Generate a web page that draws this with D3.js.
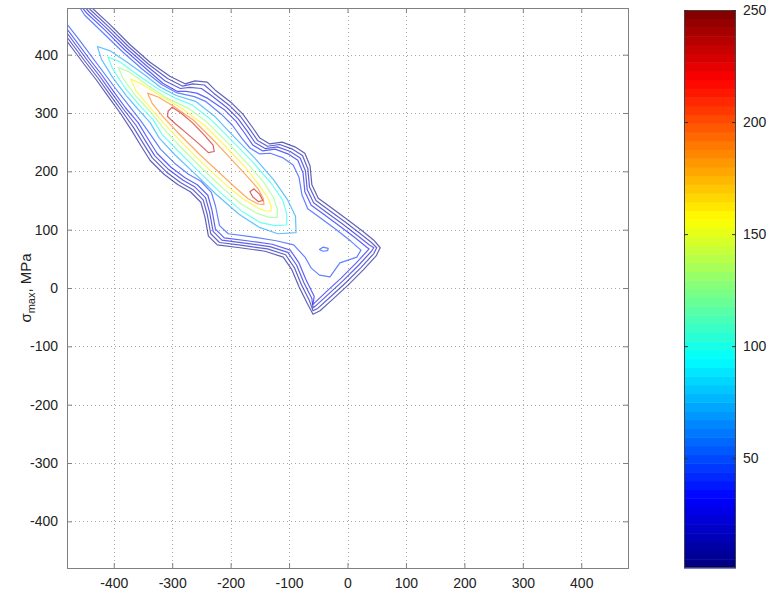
<!DOCTYPE html>
<html>
<head>
<meta charset="utf-8">
<script src="https://cdn.jsdelivr.net/npm/d3@7"></script>
<style>
  body { margin: 0; background: #fff; }
  svg { display: block; }
  text { font-family: "Liberation Sans", Arial, sans-serif; fill: #222; }
</style>
</head>
<body>
<script>
// ticks (MPa)
const xTicks = [-400, -300, -200, -100, 0, 100, 200, 300, 400];
const yTicks = [-400, -300, -200, -100, 0, 100, 200, 300, 400];
const colorTicks = [50, 100, 150, 200, 250];

// contour lines as [sigma_min, sigma_max] in MPa, outermost first
const c5 = [[-470,520],[-437,480],[-406,451],[-372,417],[-338,387],[-304,363],[-278,350],[-261,355],[-240,353],[-225,338],[-198,317],[-179,298],[-163,276],[-150,257],[-133,247],[-112,250],[-90,242],[-73,231],[-64,209],[-61,177],[-50,154],[-27,137],[-1,118],[25,98],[45,82],[56,69],[49,55],[27,31],[1,5],[-25,-19],[-47,-39],[-59,-45],[-69,-26],[-83,2],[-95,31],[-110,53],[-141,63],[-184,69],[-223,74],[-238,89],[-244,122],[-251,147],[-269,165],[-290,177],[-314,195],[-338,219],[-353,243],[-370,271],[-389,300],[-410,329],[-430,357],[-451,384],[-471,411],[-492,439],[-520,470]];
const c12 = [[-473,517],[-440,477],[-409,448],[-375,414],[-341,384],[-308,359],[-282,346],[-265,350],[-245,348],[-229,334],[-202,313],[-183,294],[-167,272],[-154,253],[-137,243],[-116,246],[-94,238],[-77,227],[-68,205],[-65,173],[-54,150],[-31,133],[-5,114],[21,94],[41,78],[50,69],[45,59],[23,35],[-3,9],[-29,-15],[-51,-35],[-59,-39],[-65,-22],[-79,6],[-91,35],[-106,57],[-137,67],[-180,73],[-219,78],[-234,93],[-240,126],[-247,151],[-265,169],[-286,181],[-310,199],[-334,223],[-349,247],[-366,275],[-386,303],[-407,332],[-427,360],[-448,387],[-468,414],[-489,442],[-517,473]];
const c20 = [[-476,514],[-443,474],[-412,445],[-378,411],[-344,381],[-312,355],[-286,342],[-270,344],[-250,342],[-233,330],[-206,309],[-187,290],[-171,268],[-158,249],[-141,239],[-120,242],[-98,234],[-81,223],[-72,201],[-69,169],[-58,146],[-35,129],[-9,110],[17,90],[37,74],[45,69],[41,63],[19,39],[-7,13],[-33,-11],[-55,-31],[-59,-34],[-61,-18],[-75,10],[-87,39],[-102,61],[-133,71],[-176,77],[-215,82],[-230,97],[-236,130],[-243,155],[-261,173],[-282,185],[-306,203],[-330,227],[-345,251],[-362,279],[-383,306],[-404,335],[-424,363],[-445,390],[-465,417],[-486,445],[-514,476]];
const c30 = [[-479,511],[-446,471],[-415,442],[-381,408],[-347,378],[-316,351],[-291,337],[-276,337],[-258,334],[-239,325],[-210,305],[-191,286],[-175,264],[-162,245],[-145,235],[-124,238],[-102,230],[-85,219],[-76,197],[-73,165],[-62,142],[-39,125],[-13,106],[13,86],[33,70],[37,67],[15,43],[-11,17],[-37,-7],[-59,-28],[-57,-14],[-71,14],[-83,43],[-98,65],[-129,75],[-172,81],[-211,86],[-226,101],[-232,134],[-239,159],[-257,177],[-278,189],[-302,207],[-326,231],[-341,255],[-358,283],[-380,309],[-401,338],[-421,366],[-442,393],[-462,420],[-483,448],[-511,479]];
const c45 = [[-467,495],[-450,468],[-419,438],[-385,405],[-351,375],[-318,349],[-293,335],[-262,328],[-243,320],[-216,298],[-197,279],[-181,257],[-167,240],[-151,230],[-132,231],[-110,223],[-93,211],[-83,190],[-78,160],[-68,136],[-45,119],[-19,100],[6,80],[23,65],[16,53],[-13,43],[-30,19],[-48,22],[-62,34],[-72,52],[-92,74],[-122,81],[-166,88],[-204,93],[-219,107],[-226,141],[-233,164],[-251,183],[-272,195],[-296,214],[-320,238],[-335,260],[-354,287],[-375,314],[-397,342],[-417,369],[-438,397],[-458,424],[-479,451],[-508,482]];
const c45spot = [[-48,66],[-42,70],[-33,68],[-34,64],[-42,63]];
const c70 = [[-428,414],[-407,407],[-377,387],[-344,363],[-320,344],[-293,330],[-260,320],[-228,295],[-194,259],[-159,223],[-126,185],[-103,152],[-89,123],[-88,95],[-119,93],[-151,104],[-185,126],[-223,159],[-259,194],[-295,228],[-322,257],[-338,284],[-358,306],[-378,329],[-402,361],[-421,392]];
const c100 = [[-410,396],[-390,388],[-357,364],[-324,341],[-296,326],[-266,314],[-234,289],[-199,254],[-164,218],[-131,180],[-111,151],[-104,127],[-104,108],[-124,107],[-149,112],[-180,131],[-218,164],[-254,199],[-289,234],[-317,263],[-333,289],[-354,311],[-380,342],[-402,376]];
const c130 = [[-392,378],[-373,370],[-344,349],[-310,326],[-272,308],[-240,284],[-204,248],[-170,212],[-144,182],[-127,156],[-120,135],[-120,121],[-134,121],[-155,128],[-182,144],[-212,170],[-248,204],[-284,240],[-311,269],[-336,301],[-363,330],[-384,359]];
const c160 = [[-371,358],[-351,349],[-321,330],[-285,309],[-245,279],[-209,243],[-175,207],[-153,179],[-136,154],[-131,141],[-131,132],[-139,132],[-153,137],[-179,153],[-206,175],[-243,209],[-279,245],[-313,281],[-339,311],[-362,338]];
const c190 = [[-342,334],[-323,327],[-297,311],[-264,288],[-228,252],[-201,223],[-174,194],[-153,170],[-144,153],[-143,143],[-153,144],[-170,153],[-194,174],[-223,201],[-252,228],[-288,264],[-315,293],[-334,316]];
const c232a = [[-307,303],[-300,310],[-285,300],[-265,283],[-245,262],[-230,245],[-228,234],[-238,232],[-255,248],[-275,265],[-295,282],[-308,294]];
const c232b = [[-167,165],[-160,170],[-150,160],[-145,150],[-152,148],[-162,156]];

const contourLines = [
  { level: 5, pts: c5 }, { level: 12, pts: c12 }, { level: 20, pts: c20 },
  { level: 30, pts: c30 }, { level: 45, pts: c45 }, { level: 45, pts: c45spot },
  { level: 70, pts: c70 }, { level: 100, pts: c100 }, { level: 130, pts: c130 },
  { level: 160, pts: c160 }, { level: 190, pts: c190 },
  { level: 232, pts: c232a }, { level: 232, pts: c232b },
];

// MATLAB jet colormap
function jet(t) {
  const c = v => Math.max(0, Math.min(1, v));
  return d3.rgb(255 * c(1.5 - Math.abs(4 * t - 3)),
                255 * c(1.5 - Math.abs(4 * t - 2)),
                255 * c(1.5 - Math.abs(4 * t - 1))).formatHex();
}

const W = 773, H = 593;
const plot = { left: 67, right: 628, top: 8, bottom: 568 };
const bar = { left: 684, right: 736, top: 10, bottom: 568 };

const x = d3.scaleLinear().domain([-480, 480]).range([plot.left, plot.right]);
const y = d3.scaleLinear().domain([-480, 480]).range([plot.bottom, plot.top]);
const cScale = d3.scaleLinear().domain([1, 250]).range([bar.bottom, bar.top]);
const colorOf = v => jet((v - 1) / 249);
const fmt = d => String(d); // plain hyphen minus, as in the picture

const svg = d3.select('body').append('svg')
  .attr('width', W).attr('height', H);

svg.append('defs').append('clipPath').attr('id', 'clip')
  .append('rect')
  .attr('x', plot.left).attr('y', plot.top)
  .attr('width', plot.right - plot.left).attr('height', plot.bottom - plot.top);

// grid
const grid = svg.append('g')
  .attr('stroke', '#a8a8a8').attr('stroke-dasharray', '1,3').attr('stroke-width', 1);
grid.selectAll('.gx').data(xTicks).enter().append('line')
  .attr('x1', d => Math.round(x(d)) + 0.5).attr('x2', d => Math.round(x(d)) + 0.5)
  .attr('y1', plot.top).attr('y2', plot.bottom);
grid.selectAll('.gy').data(yTicks).enter().append('line')
  .attr('y1', d => Math.round(y(d)) + 0.5).attr('y2', d => Math.round(y(d)) + 0.5)
  .attr('x1', plot.left).attr('x2', plot.right);

// contours
const line = d3.line()
  .x(d => x(d[0]))
  .y(d => y(d[1]))
  .curve(d3.curveLinearClosed);

svg.append('g')
  .attr('clip-path', 'url(#clip)')
  .selectAll('path')
  .data(contourLines)
  .enter()
  .append('path')
  .attr('d', d => line(d.pts))
  .attr('fill', 'none')
  .attr('stroke', d => colorOf(d.level))
  .attr('stroke-opacity', 0.62)
  .attr('stroke-width', 1.2)
  .attr('stroke-linejoin', 'round');

// axes (MATLAB style: ticks inside, on all four sides)
const tickLen = 5;
svg.append('g')
  .attr('transform', `translate(0,${plot.bottom})`)
  .call(d3.axisBottom(x).tickValues(xTicks).tickSize(-tickLen).tickPadding(10).tickFormat(fmt));
svg.append('g')
  .attr('transform', `translate(0,${plot.top})`)
  .call(d3.axisTop(x).tickValues(xTicks).tickSize(-tickLen).tickFormat(''));
svg.append('g')
  .attr('transform', `translate(${plot.left},0)`)
  .call(d3.axisLeft(y).tickValues(yTicks).tickSize(-tickLen).tickPadding(9).tickFormat(fmt));
svg.append('g')
  .attr('transform', `translate(${plot.right},0)`)
  .call(d3.axisRight(y).tickValues(yTicks).tickSize(-tickLen).tickFormat(''));

svg.selectAll('.domain').attr('stroke', '#808080');
svg.selectAll('.tick line').attr('stroke', '#808080');
svg.selectAll('.tick text')
  .style('font-family', '"Liberation Sans", Arial, sans-serif')
  .style('font-size', '14px')
  .attr('fill', '#333');

// y axis title
const ylab = svg.append('text')
  .attr('transform', `translate(31,${(plot.top + plot.bottom) / 2}) rotate(-90)`)
  .attr('text-anchor', 'middle')
  .attr('fill', '#333')
  .style('font-size', '15px');
ylab.append('tspan').text('\u03c3');
ylab.append('tspan').attr('dy', 4).style('font-size', '11px').text('max');
ylab.append('tspan').attr('dy', -4).text(', MPa');

// colour bar: 64 jet bands
const nBands = 64;
const bands = d3.range(nBands).map(i => ({
  lo: 1 + (249 * i) / nBands,
  hi: 1 + (249 * (i + 1)) / nBands,
  t: (i + 0.5) / nBands,
}));
svg.append('g').selectAll('rect')
  .data(bands).enter().append('rect')
  .attr('x', bar.left)
  .attr('width', bar.right - bar.left)
  .attr('y', d => cScale(d.hi))
  .attr('height', d => cScale(d.lo) - cScale(d.hi) + 0.5)
  .attr('fill', d => jet(d.t));

svg.append('rect')
  .attr('x', bar.left + 0.5).attr('y', bar.top + 0.5)
  .attr('width', bar.right - bar.left - 1).attr('height', bar.bottom - bar.top - 1)
  .attr('fill', 'none').attr('stroke', '#444').attr('stroke-width', 1);

const cAxis = svg.append('g')
  .attr('transform', `translate(${bar.right},0)`)
  .call(d3.axisRight(cScale).tickValues(colorTicks).tickSize(-4).tickPadding(7));
cAxis.select('.domain').remove();
cAxis.selectAll('.tick line').attr('stroke', '#333');
cAxis.selectAll('.tick text')
  .style('font-family', '"Liberation Sans", Arial, sans-serif')
  .style('font-size', '14px')
  .attr('fill', '#333');
svg.append('g')
  .attr('transform', `translate(${bar.left},0)`)
  .call(d3.axisLeft(cScale).tickValues(colorTicks).tickSize(-4).tickFormat(''))
  .call(g => g.select('.domain').remove())
  .selectAll('.tick line').attr('stroke', '#333');
</script>
</body>
</html>
